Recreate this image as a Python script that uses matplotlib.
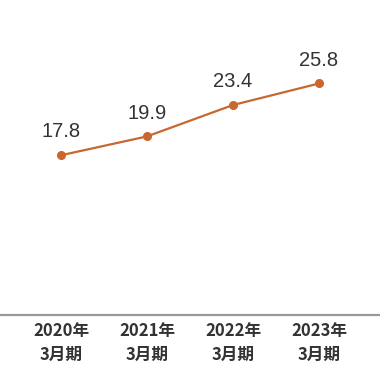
import matplotlib
matplotlib.use("Agg")
import matplotlib.pyplot as plt

plt.rcParams['font.family'] = ['Noto Sans CJK JP', 'DejaVu Sans']

years = ["2020年\n3月期", "2021年\n3月期", "2022年\n3月期", "2023年\n3月期"]
values = [17.8, 19.9, 23.4, 25.8]
value_labels = ["17.8", "19.9", "23.4", "25.8"]

fig = plt.figure(figsize=(3.8, 3.72), dpi=100)
ax = fig.add_axes([0, 0.1532, 1, 0.8468])

x = list(range(len(values)))
ax.plot(x, values, color='#c8672e', linewidth=1.6, marker='o', markersize=5.5)

for xi, v, lab in zip(x, values, value_labels):
    ax.annotate(lab, (xi, v), xytext=(0, 10), textcoords='offset points',
                ha='center', va='bottom', fontsize=14.5, color='#333333',
                family=['Liberation Sans', 'DejaVu Sans'])

ax.set_xlim(-0.709, 3.709)
ax.set_ylim(0, 35.1)
ax.set_xticks(x)
ax.set_xticklabels(years, fontsize=12, fontweight='bold', color='#333333', linespacing=1.4)
ax.tick_params(axis='x', length=0, pad=5)
ax.set_yticks([])

for s in ['top', 'right', 'left']:
    ax.spines[s].set_visible(False)
ax.spines['bottom'].set_color('#999999')
ax.spines['bottom'].set_linewidth(1.6)

fig.savefig("out.png", dpi=100)
